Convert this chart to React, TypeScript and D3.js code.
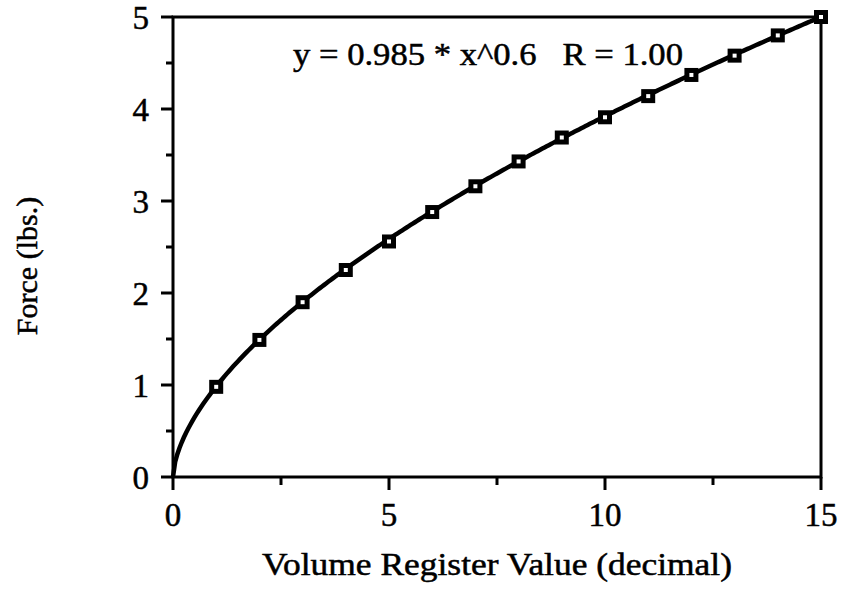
import * as d3 from 'd3'
import { useEffect, useRef } from 'react'

// register values and measured force
const registerValues = [1, 2, 3, 4, 5, 6, 7, 8, 9, 10, 11, 12, 13, 14, 15]
const forceValues = [0.98, 1.49, 1.9, 2.25, 2.56, 2.88, 3.16, 3.43, 3.69, 3.91, 4.14, 4.37, 4.58, 4.8, 5.0]

// fit shown in the chart: y = 0.985 * x^0.6
const fitA = 0.985
const fitB = 0.6

const xTickLabels = [0, 5, 10, 15]
const xMinorTicks = [2.5, 7.5, 12.5]
const yTickLabels = [0, 1, 2, 3, 4, 5]
const yMinorTicks = [0.5, 1.5, 2.5, 3.5, 4.5]

const fitLabel = 'y = 0.985 * x^0.6   R = 1.00'
const xTitle = 'Volume Register Value (decimal)'
const yTitle = 'Force (lbs.)'

export default function App() {
  const ref = useRef<SVGSVGElement | null>(null)

  useEffect(() => {
    if (!ref.current) return
    const width = 842
    const height = 589
    const left = 173, right = 821, top = 17, bottom = 477
    const font = 'Liberation Serif, Times New Roman, serif'

    const svg = d3.select(ref.current)
    svg.selectAll('*').remove()
    svg.attr('width', width).attr('height', height)

    const x = d3.scaleLinear().domain([0, 15]).range([left, right])
    const y = d3.scaleLinear().domain([0, 5]).range([bottom, top])

    const txt = (sel: d3.Selection<any, any, any, any>, size = 33) =>
      sel.attr('font-family', font).attr('font-size', size)
        .attr('fill', '#000').attr('stroke', '#000').attr('stroke-width', 0.5)

    // frame
    svg.append('rect')
      .attr('x', left).attr('y', top)
      .attr('width', right - left).attr('height', bottom - top)
      .attr('fill', 'none').attr('stroke', '#000').attr('stroke-width', 3)

    // y ticks
    svg.selectAll('.ymaj').data(yTickLabels).join('line')
      .attr('x1', left - 12).attr('x2', left)
      .attr('y1', d => y(d)).attr('y2', d => y(d))
      .attr('stroke', '#000').attr('stroke-width', 3)
    svg.selectAll('.ymin').data(yMinorTicks).join('line')
      .attr('x1', left - 7).attr('x2', left)
      .attr('y1', d => y(d)).attr('y2', d => y(d))
      .attr('stroke', '#000').attr('stroke-width', 3)
    svg.selectAll('.ylab').data(yTickLabels).join('text')
      .attr('x', left - 24).attr('y', d => y(d)).attr('dy', '0.35em')
      .attr('text-anchor', 'end')
      .call(txt)
      .text(d => d)

    // x ticks
    svg.selectAll('.xmaj').data(xTickLabels).join('line')
      .attr('x1', d => x(d)).attr('x2', d => x(d))
      .attr('y1', bottom).attr('y2', bottom + 13)
      .attr('stroke', '#000').attr('stroke-width', 3)
    svg.selectAll('.xmin').data(xMinorTicks).join('line')
      .attr('x1', d => x(d)).attr('x2', d => x(d))
      .attr('y1', bottom).attr('y2', bottom + 8)
      .attr('stroke', '#000').attr('stroke-width', 3)
    svg.selectAll('.xlab').data(xTickLabels).join('text')
      .attr('x', d => x(d)).attr('y', 526)
      .attr('text-anchor', 'middle')
      .call(txt)
      .text(d => d)

    // titles
    svg.append('text')
      .attr('x', x(7.5)).attr('y', 575)
      .attr('text-anchor', 'middle')
      .call(txt, 31)
      .attr('textLength', 470).attr('lengthAdjust', 'spacingAndGlyphs')
      .text(xTitle)
    svg.append('text')
      .attr('transform', 'translate(37, 266) rotate(-90)')
      .attr('text-anchor', 'middle')
      .call(txt, 30)
      .text(yTitle)

    // fit curve
    const fitPts = d3.range(0, 15.0001, 0.05).map(v => [v, fitA * Math.pow(v, fitB)] as [number, number])
    const line = d3.line<[number, number]>().x(d => x(d[0])).y(d => y(d[1]))
    svg.append('path')
      .datum(fitPts)
      .attr('fill', 'none').attr('stroke', '#000').attr('stroke-width', 4.5)
      .attr('d', line)

    // markers
    const pts = registerValues.map((v, i) => ({ x: v, y: forceValues[i] }))
    svg.selectAll('.pt').data(pts).join('rect')
      .attr('x', d => x(d.x) - 4.5).attr('y', d => y(d.y) - 4.5)
      .attr('width', 9).attr('height', 9)
      .attr('fill', '#fff').attr('stroke', '#000').attr('stroke-width', 5)

    // fit label
    svg.append('text')
      .attr('x', 293).attr('y', 65)
      .call(txt, 31)
      .attr('textLength', 390).attr('lengthAdjust', 'spacingAndGlyphs')
      .style('white-space', 'pre')
      .text(fitLabel)
  }, [])

  return <svg ref={ref} style={{ position: 'absolute', left: 0, top: 0, background: '#fff' }} />
}
